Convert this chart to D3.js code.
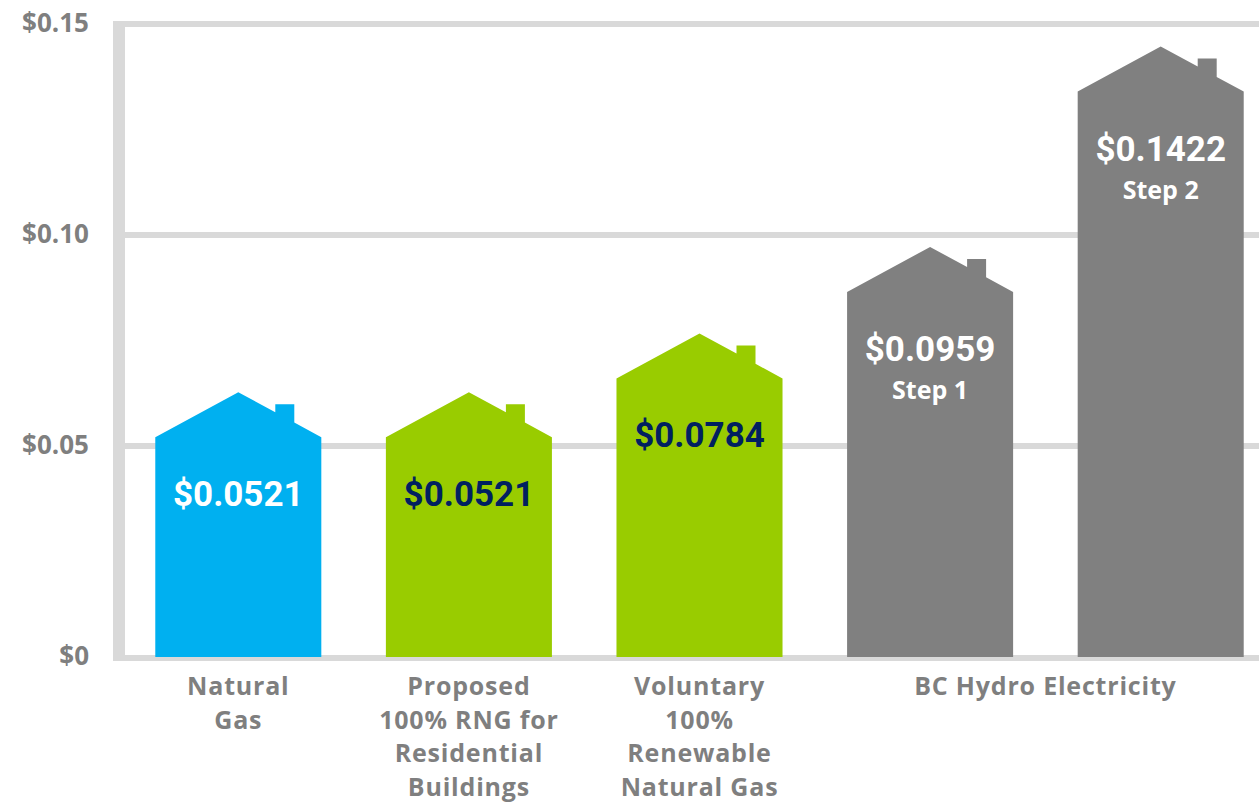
<!DOCTYPE html>
<html>
<head>
<meta charset="utf-8">
<script src="https://cdn.jsdelivr.net/npm/d3@7"></script>
<style>
  body { margin: 0; background: #fff; }
  svg { display: block; }
  .tickLabel { font-family: "Open Sans", sans-serif; font-weight: 700; font-size: 26px; fill: #7f7f7f; }
  .catLabel { font-family: "Open Sans", sans-serif; font-weight: 700; font-size: 25px; fill: #7f7f7f; letter-spacing: 0.8px; }
  .valueLabel { font-family: Roboto, sans-serif; font-weight: 700; font-size: 35px; }
  .stepLabel { font-family: "Open Sans", sans-serif; font-weight: 700; font-size: 25px; fill: #fff; }
</style>
</head>
<body>
<div id="chart"></div>
<script>
// data
const categories = ["Natural Gas", "Proposed RNG", "Voluntary RNG", "BC Hydro Step 1", "BC Hydro Step 2"];
const barValues = [0.0521, 0.0521, 0.066, 0.0865, 0.134]; // house wall heights as drawn
const valueLabels = ["$0.0521", "$0.0521", "$0.0784", "$0.0959", "$0.1422"];
const stepLabels = ["", "", "", "Step 1", "Step 2"];
const barColors = ["#00b0f0", "#99cc00", "#99cc00", "#808080", "#808080"];
const labelColors = ["#ffffff", "#002060", "#002060", "#ffffff", "#ffffff"];
const yTicks = [0, 0.05, 0.1, 0.15];
const axisGroups = [
  { lines: ["Natural", "Gas"], first: 0, last: 0 },
  { lines: ["Proposed", "100% RNG for", "Residential", "Buildings"], first: 1, last: 1 },
  { lines: ["Voluntary", "100%", "Renewable", "Natural Gas"], first: 2, last: 2 },
  { lines: ["BC Hydro Electricity"], first: 3, last: 4 },
];

const svgWidth = 1259, svgHeight = 802;
const axisX = 119;

const svg = d3.select("#chart").append("svg")
  .attr("width", svgWidth)
  .attr("height", svgHeight);

const x = d3.scaleBand()
  .domain(categories)
  .range([123, 1276])
  .paddingInner(0.28)
  .paddingOuter(0.14);

const y = d3.scaleLinear().domain([0, 0.15]).range([657, 24]);

// gridlines
svg.append("g")
  .selectAll("line")
  .data(yTicks)
  .enter()
  .append("line")
  .attr("x1", axisX)
  .attr("x2", svgWidth)
  .attr("y1", (d) => y(d) + (d === 0 ? 1 : 0))
  .attr("y2", (d) => y(d) + (d === 0 ? 1 : 0))
  .attr("stroke", "#d9d9d9")
  .attr("stroke-width", 6);

// left axis bar
svg.append("line")
  .attr("x1", axisX).attr("x2", axisX)
  .attr("y1", y(0.15) - 3).attr("y2", y(0) + 4)
  .attr("stroke", "#d9d9d9")
  .attr("stroke-width", 12);

// tick labels
const yAxis = d3.axisLeft(y)
  .tickValues(yTicks)
  .tickSize(0)
  .tickPadding(0)
  .tickFormat((d) => (d === 0 ? "$0" : "$" + d3.format(".2f")(d)));
const yAxisG = svg.append("g")
  .attr("transform", "translate(89,0)")
  .call(yAxis);
yAxisG.select(".domain").remove();
yAxisG.selectAll("text")
  .attr("class", "tickLabel")
  .attr("font-family", null)
  .attr("font-size", null)
  .attr("fill", null)
  .attr("dy", "0.3em");

// houses
const roofH = 45;
function housePath(i) {
  const x0 = x(categories[i]);
  const w = x.bandwidth();
  const cx = x0 + w / 2;
  const top = y(barValues[i]);
  const base = y(0);
  const slope = roofH / (w / 2);
  const c0 = cx + 37, c1 = cx + 56;
  const chimTop = top - 33;
  const p = d3.path();
  p.moveTo(x0, base);
  p.lineTo(x0, top);
  p.lineTo(cx, top - roofH);
  p.lineTo(c0, top - roofH + (c0 - cx) * slope);
  p.lineTo(c0, chimTop);
  p.lineTo(c1, chimTop);
  p.lineTo(c1, top - roofH + (c1 - cx) * slope);
  p.lineTo(x0 + w, top);
  p.lineTo(x0 + w, base);
  p.closePath();
  return p.toString();
}

svg.append("g")
  .selectAll("path")
  .data(categories)
  .enter()
  .append("path")
  .attr("d", (d, i) => housePath(i))
  .attr("fill", (d, i) => barColors[i]);

// value labels
svg.append("g")
  .selectAll("text")
  .data(categories)
  .enter()
  .append("text")
  .attr("class", "valueLabel")
  .attr("x", (d) => x(d) + x.bandwidth() / 2)
  .attr("y", (d, i) => y(barValues[i]) + 69)
  .attr("text-anchor", "middle")
  .attr("fill", (d, i) => labelColors[i])
  .text((d, i) => valueLabels[i]);

svg.append("g")
  .selectAll("text")
  .data(categories.filter((d, i) => stepLabels[i]))
  .enter()
  .append("text")
  .attr("class", "stepLabel")
  .attr("x", (d) => x(d) + x.bandwidth() / 2)
  .attr("y", (d) => y(barValues[categories.indexOf(d)]) + 107)
  .attr("text-anchor", "middle")
  .text((d) => stepLabels[categories.indexOf(d)]);

// category labels
const catG = svg.append("g")
  .selectAll("text")
  .data(axisGroups)
  .enter()
  .append("text")
  .attr("class", "catLabel")
  .attr("text-anchor", "middle")
  .attr("transform", (g) => {
    const a = x(categories[g.first]);
    const b = x(categories[g.last]) + x.bandwidth();
    return "translate(" + (a + b) / 2 + ",695)";
  });
catG.selectAll("tspan")
  .data((g) => g.lines)
  .enter()
  .append("tspan")
  .attr("x", 0)
  .attr("y", (d, i) => i * 33.5)
  .text((d) => d);
</script>
</body>
</html>
